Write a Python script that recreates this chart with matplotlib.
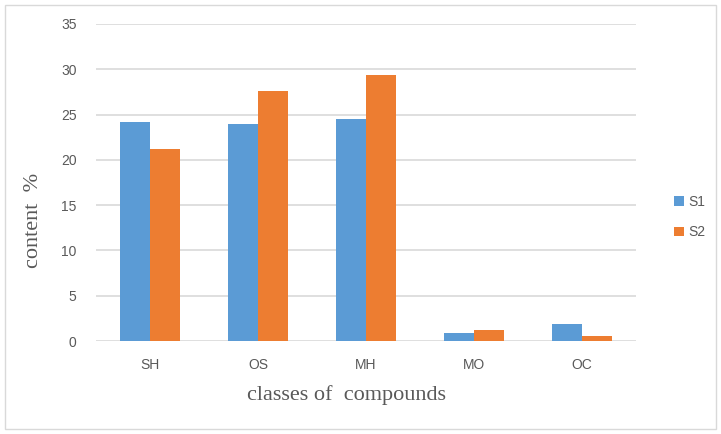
import numpy as np
import matplotlib.pyplot as plt
from matplotlib.patches import Rectangle

categories = ["SH", "OS", "MH", "MO", "OC"]
s1 = [24.2, 24.0, 24.5, 0.9, 1.9]
s2 = [21.2, 27.6, 29.4, 1.2, 0.6]
yticks = [0, 5, 10, 15, 20, 25, 30, 35]

blue = "#5B9BD5"
orange = "#ED7D31"
tick_col = "#595959"

fig = plt.figure(figsize=(7.21, 4.34), dpi=100)
ax = fig.add_axes([0.133, 0.214, 0.749, 0.731])

x = np.arange(len(categories))
w = 0.28
ax.bar(x - w / 2, s1, width=w, color=blue, label="S1", zorder=3)
ax.bar(x + w / 2, s2, width=w, color=orange, label="S2", zorder=3)

ax.set_xlim(-0.5, len(categories) - 0.5)
ax.set_ylim(0, 35)
ax.set_yticks(yticks)
ax.set_xticks(x)
ax.set_xticklabels(categories)
ax.grid(axis="y", color="#D9D9D9", linewidth=1.2, zorder=0)
for s in ax.spines.values():
    s.set_visible(False)
ax.tick_params(length=0, labelsize=10, labelcolor=tick_col)
for lab in ax.get_xticklabels() + ax.get_yticklabels():
    lab.set_family("Liberation Sans")
ax.tick_params(axis="x", pad=12)
ax.tick_params(axis="y", pad=14)

# axis titles placed by hand, like the original (y title sits low)
fig.text(0.046, 0.493, "content  %", rotation=90, ha="center", va="center",
         family="Liberation Serif", fontsize=16, color=tick_col)
fig.text(0.481, 0.090, "classes of  compounds", ha="center", va="center",
         family="Liberation Serif", fontsize=16, color=tick_col)

leg = fig.legend(loc="center left", bbox_to_anchor=(0.918, 0.50), frameon=False,
                 handlelength=0.7, handleheight=0.7, handletextpad=0.3, labelspacing=1.2,
                 prop={"family": "Liberation Sans", "size": 10})
for t in leg.get_texts():
    t.set_color(tick_col)

fig.patches.append(Rectangle((0.007, 0.012), 0.986, 0.976, transform=fig.transFigure,
                             fill=False, edgecolor="#D9D9D9", linewidth=1))

fig.savefig("out.png", dpi=100)
